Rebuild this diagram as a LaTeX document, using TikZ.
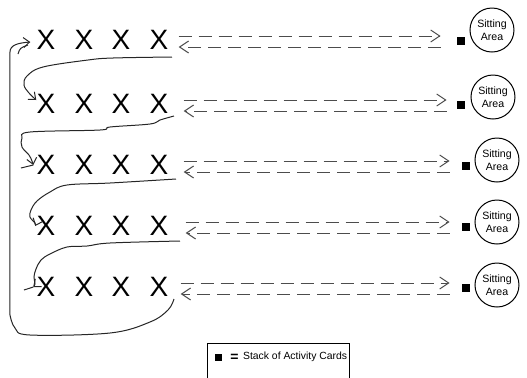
\documentclass[tikz,border=0pt]{standalone}
\usepackage{fontspec}
\setmainfont{Liberation Sans}
\usetikzlibrary{arrows.meta,positioning}

\tikzset{
  seat/.style={draw,circle,line width=0.5pt,minimum size=22pt,inner sep=0pt,align=center,font=\fontsize{5.3}{6.3}\selectfont},
  card/.style={fill=black,minimum size=4pt,inner sep=0pt},
  crossmark/.style={inner sep=0pt,font=\fontsize{14}{15}\selectfont},
  trip/.style={black!70,line width=0.5pt,dash pattern=on 6.5pt off 3.5pt},
  barb/.style={-{Straight Barb[length=4.5pt,width=6pt]}},
  hand/.style={black!85,line width=0.5pt,-{Straight Barb[length=3pt,width=5pt]}},
  legend box/.style={draw,line width=0.5pt,minimum width=71pt,minimum height=18pt},
}

\begin{document}
\begin{tikzpicture}[x=0.5pt,y=-0.5pt]
  \useasboundingbox (0,0) rectangle (527,377);
  % five rows: four X, a card stack and a sitting area
  \foreach \i/\y/\ls/\rs/\sx/\cx/\cy in {1/40/5pt/8pt/461/492/30, 2/104/7.5pt/5pt/461/493/97,
      3/165/7.5pt/6pt/466/497/160, 4/226/8.5pt/6pt/466/497/222, 5/287/6pt/6pt/466/497/285}{
    \foreach \j/\x in {1/46,2/84,3/121,4/159}
      \node[crossmark] (x\i-\j) at (\x,\y) {X};
    \node[card] (sq\i) at (\sx,{\y+1}) {};
    \node[seat] (seat\i) at (\cx,\cy) {Sitting\\Area};
    \draw[trip,barb,shorten <=\ls,shorten >=\rs] ([yshift=2pt]x\i-4.east) -- ([yshift=2pt]x\i-4.east -| sq\i.west);
    \draw[trip,barb,shorten <=\rs,shorten >=\ls] ([yshift=-3.5pt]x\i-4.east -| sq\i.west) -- ([yshift=-3.5pt]x\i-4.east);
  }

  % hand drawn path from row to row
  \coordinate (from1) at (172,57);
  \coordinate (from2) at (174,116);
  \coordinate (from3) at (176,179);
  \coordinate (from4) at (180,241);
  \coordinate (from5) at (174,299);
  \draw[hand] plot[smooth,tension=0.6] coordinates {(from1) (113,58) (88,60) (43,67) (27,76) (24,85) (29,93) ([xshift=0pt,yshift=2pt]x2-1.west)};
  \draw[hand] plot[smooth,tension=0.6] coordinates {(from2) (160,120) (150,124) (110,127) (100,130) (30,132) (22,138) (22,147) (29,155) (32,161) ([xshift=-1.5pt]x3-1.west)};
  \draw[hand,-] (21,168) -- ([xshift=-1.5pt]x3-1.west);
  \draw[hand] plot[smooth,tension=0.6] coordinates {(from3) (110,183) (67,185) (50,192) (37,201) (31,210) (30,217) (35,223) ([xshift=-0.5pt]x4-1.west)};
  \draw[hand] plot[smooth,tension=0.6] coordinates {(from4) (110,243) (87,246) (67,247) (50,254) (41,260) (36,269) (34,277) (35,284) ([xshift=-1.5pt]x5-1.west)};
  \draw[hand,-] (24,290) -- ([xshift=-1.5pt]x5-1.west);
  \draw[hand] plot[smooth,tension=0.6] coordinates {(from5) (168,310) (150,322) (110,333) (30,335) (15,328) (10,315)}
    -- (10,52) .. controls (10,45) and (18,43) .. ([xshift=-3pt,yshift=-1pt]x1-1.west);
  \draw[hand,-] (18,54) .. controls (20,48) .. (28,45);

  % legend
  \node[legend box] (legend) at (279,361) {};
  \node[card,minimum size=3.5pt] (key) at (219,357) {};
  \node[font=\fontsize{5.2}{6}\selectfont,inner sep=0pt,right=3.5pt of key] (key text) {\raisebox{-0.7pt}{\fontsize{7}{7}\selectfont\bfseries =}\, Stack of Activity Cards};
\end{tikzpicture}
\end{document}
